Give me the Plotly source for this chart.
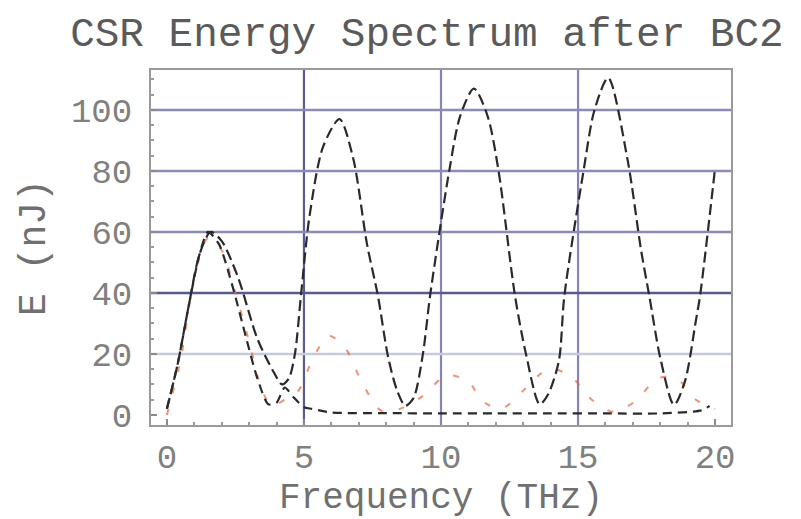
import plotly.graph_objects as go

# ---- data ----
# long-dashed black spectrum (oscillating)
f_osc = [0, 0.4, 0.8, 1.2, 1.6, 2.0, 2.6, 3.3, 3.9, 4.2, 4.45, 4.67, 4.9, 5.2, 5.7,
         6.3, 6.8, 7.3, 7.7, 8.07, 8.4, 8.7, 9.0, 9.34, 9.6, 10.3, 10.7, 11.2, 11.7,
         12.1, 12.7, 13.1, 13.6, 13.9, 14.3, 14.5, 15.2, 15.6, 16.1, 16.8, 17.3,
         17.6, 18.0, 18.5, 18.9, 19.3, 19.45, 20.0]
e_osc = [2, 17, 36, 53, 60, 57, 45, 25, 14, 10, 12, 20, 40, 65, 88,
         97, 84, 56, 39, 19, 8, 3, 5.6, 20, 39, 80, 98, 107, 98,
         80, 39, 20, 3.5, 6.6, 17.7, 39, 80, 100, 110.5, 84, 54,
         39, 18.7, 3.3, 11, 31, 39, 81]

# medium-dashed black spectrum (decays to a flat tail)
f_tail = [0, 0.4, 0.8, 1.2, 1.5, 1.9, 2.4, 2.9, 3.3, 3.7, 4.0, 4.3, 4.6, 5.0, 5.3,
          6, 8, 10, 12, 14, 16, 18, 19.5, 19.8]
e_tail = [2, 17, 36, 53, 60, 56, 42, 25, 12, 3.5, 4, 9, 6, 2.5, 2,
          0.8, 0.6, 0.5, 0.5, 0.5, 0.5, 0.5, 1.5, 3]

# faint red spectrum
f_red = [0, 0.5, 1.0, 1.5, 2.0, 2.5, 3.0, 3.4, 3.8, 4.3, 4.8, 5.3, 5.9, 6.5, 7.1,
         7.8, 8.5, 9.3, 10.2, 11.0, 11.5, 12.2, 13.0, 13.9, 14.7, 15.5, 16.3,
         17.1, 17.9, 18.6, 19.3, 20.0]
e_red = [0, 18, 45, 58, 54, 40, 24, 10, 3, 5, 8, 18, 26, 22, 11,
         1.5, 2, 6, 13, 11, 4.6, 2, 8, 15, 13, 5, 1,
         4.6, 12, 12, 5, 2]

x_ticks = [0, 5, 10, 15, 20]
y_ticks = [0, 20, 40, 60, 80, 100]
x_grid = [5, 10, 15]
x_grid_colors = ["#5a5a98", "#8484b8", "#8484b8"]
y_grid = [20, 40, 60, 80, 100]
y_grid_colors = ["#c6cade", "#585898", "#8a8abc", "#8a8abc", "#8a8abc"]

FONT = "Liberation Mono, Courier New, monospace"

fig = go.Figure()
fig.add_trace(go.Scatter(x=f_red, y=e_red, mode="lines",
                         line=dict(color="#e8663e", width=2, dash="6px,16px", shape="spline", smoothing=0.8),
                         opacity=0.7, showlegend=False))
fig.add_trace(go.Scatter(x=f_tail, y=e_tail, mode="lines",
                         line=dict(color="#2a2a2a", width=2.2, dash="9px,6px", shape="spline", smoothing=0.7),
                         showlegend=False))
fig.add_trace(go.Scatter(x=f_osc, y=e_osc, mode="lines",
                         line=dict(color="#2a2a2a", width=2.2, dash="11px,5px", shape="spline", smoothing=0.8),
                         showlegend=False))

shapes = []
for xv, c in zip(x_grid, x_grid_colors):
    shapes.append(dict(type="line", xref="x", yref="paper", x0=xv, x1=xv, y0=0, y1=1,
                       line=dict(color=c, width=2.2), layer="below"))
for yv, c in zip(y_grid, y_grid_colors):
    shapes.append(dict(type="line", xref="paper", yref="y", x0=0, x1=1, y0=yv, y1=yv,
                       line=dict(color=c, width=2.5), layer="below"))

axis_common = dict(showgrid=False, zeroline=False, showline=True, linecolor="#9a9a9a", linewidth=2,
                   mirror=True, ticks="inside", ticklen=6, tickcolor="#8a8a8a", tickwidth=1.5,
                   tickfont=dict(family=FONT, size=34, color="#808080"))

fig.update_layout(
    width=801, height=519,
    margin=dict(l=143, r=78, t=62, b=102),
    paper_bgcolor="white", plot_bgcolor="white",
    title=dict(text="CSR Energy Spectrum after BC2", x=0.523, xanchor="center", y=0.955, yanchor="middle",
               font=dict(family=FONT, size=41, color="#5a5a5a")),
    shapes=shapes,
    xaxis=dict(range=[-0.58, 20.58], tickvals=x_ticks, ticktext=[str(v) for v in x_ticks],
               minor=dict(ticks="inside", ticklen=3, dtick=1, tickcolor="#9a9a9a"),
               title=dict(text="Frequency (THz)", standoff=0,
                          font=dict(family=FONT, size=36, color="#707070")),
               **axis_common),
    yaxis=dict(range=[-3.3, 113.1], tickvals=y_ticks, ticktext=[str(v) for v in y_ticks],
               minor=dict(ticks="inside", ticklen=3, dtick=5, tickcolor="#9a9a9a"),
               ticklabelstandoff=10,
               title=dict(text="E (nJ)", standoff=14,
                          font=dict(family=FONT, size=38, color="#707070")),
               **axis_common),
)

fig.write_html("out.html")
